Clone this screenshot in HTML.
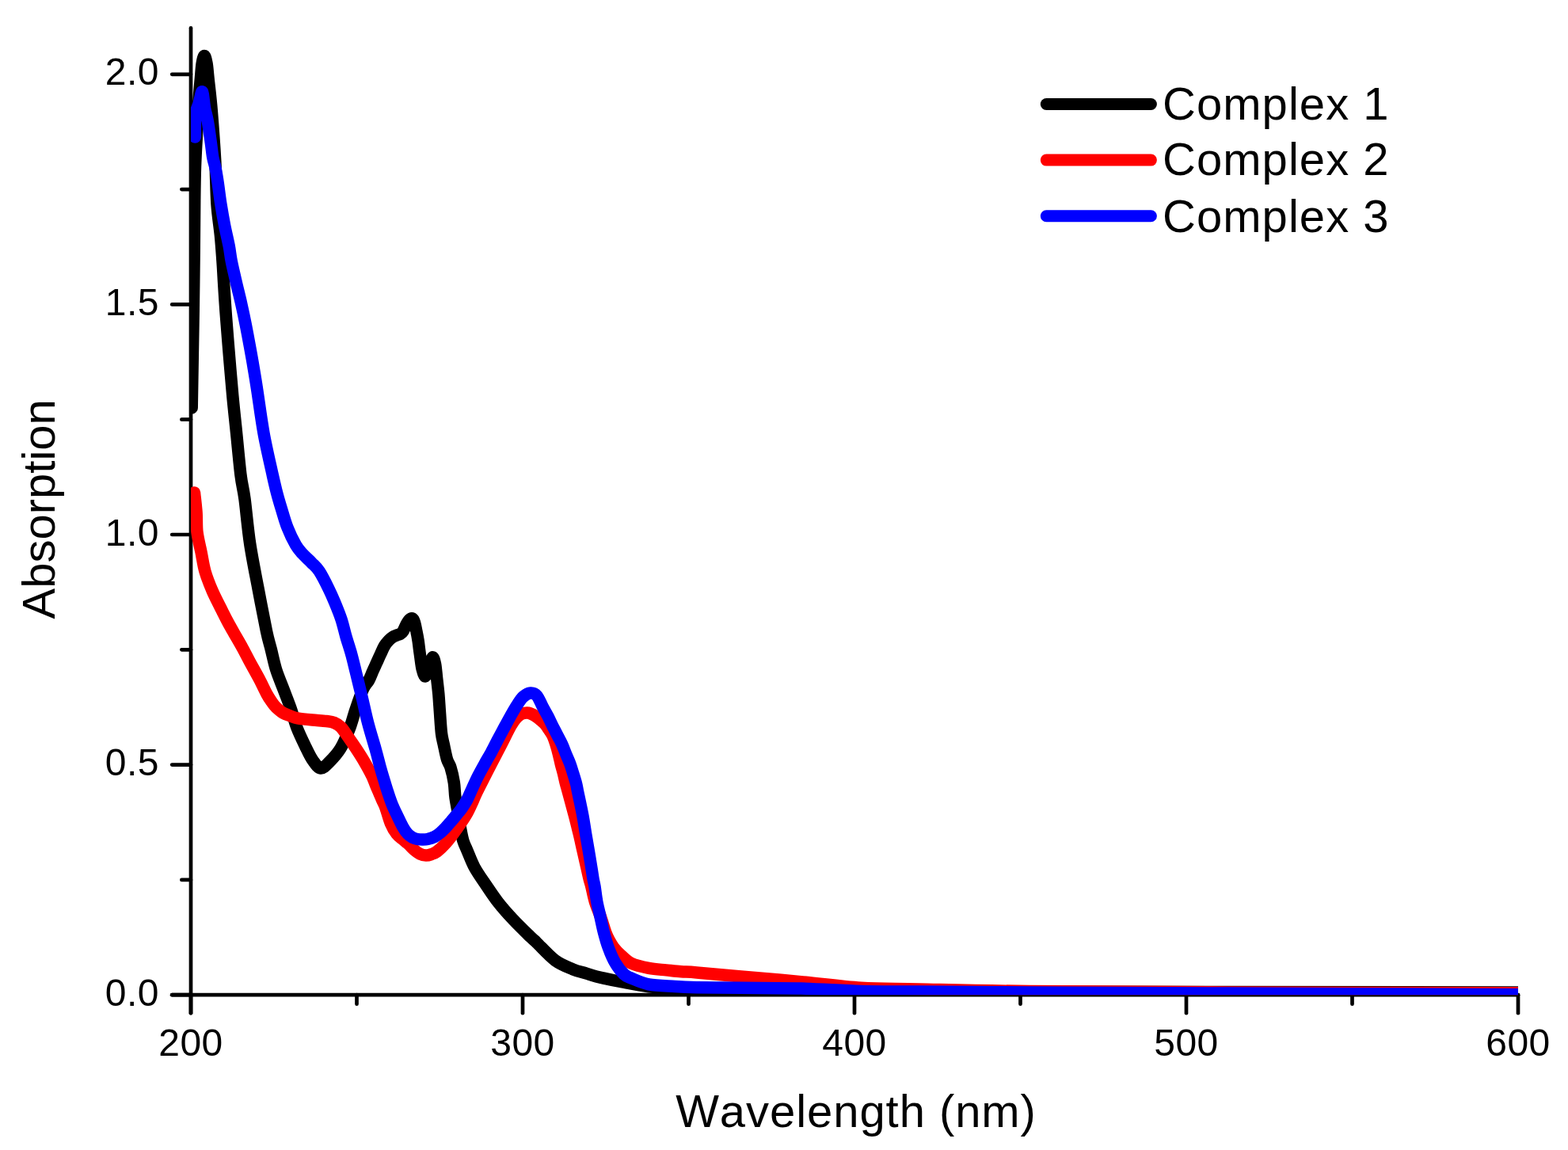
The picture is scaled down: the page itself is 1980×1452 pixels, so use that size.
<!DOCTYPE html>
<html><head><meta charset="utf-8"><title>Absorption spectra</title>
<style>html,body{margin:0;padding:0;background:#fff;}svg{display:block;}text{font-kerning:none;}</style>
</head><body>
<svg width="1980" height="1452" viewBox="0 0 1980 1452">
<rect width="1980" height="1452" fill="#fff"/>
<defs><clipPath id="pc"><rect x="241" y="0" width="1676" height="1256.2"/></clipPath></defs>
<g stroke="#000" stroke-width="4.7" stroke-linecap="round" fill="none">
<line x1="241.0" y1="35.3" x2="241.0" y2="1279.2"/>
<line x1="217.2" y1="1256.2" x2="1917.0" y2="1256.2"/>
<line x1="217.2" y1="1256.2" x2="241.0" y2="1256.2"/>
<line x1="229.4" y1="1110.9" x2="241.0" y2="1110.9"/>
<line x1="217.2" y1="965.6" x2="241.0" y2="965.6"/>
<line x1="229.4" y1="820.3" x2="241.0" y2="820.3"/>
<line x1="217.2" y1="675.0" x2="241.0" y2="675.0"/>
<line x1="229.4" y1="529.7" x2="241.0" y2="529.7"/>
<line x1="217.2" y1="384.4" x2="241.0" y2="384.4"/>
<line x1="229.4" y1="239.1" x2="241.0" y2="239.1"/>
<line x1="217.2" y1="93.8" x2="241.0" y2="93.8"/>
<line x1="241.0" y1="1256.2" x2="241.0" y2="1279.2"/>
<line x1="450.5" y1="1256.2" x2="450.5" y2="1267.7"/>
<line x1="660.0" y1="1256.2" x2="660.0" y2="1279.2"/>
<line x1="869.5" y1="1256.2" x2="869.5" y2="1267.7"/>
<line x1="1079.0" y1="1256.2" x2="1079.0" y2="1279.2"/>
<line x1="1288.5" y1="1256.2" x2="1288.5" y2="1267.7"/>
<line x1="1498.0" y1="1256.2" x2="1498.0" y2="1279.2"/>
<line x1="1707.5" y1="1256.2" x2="1707.5" y2="1267.7"/>
<line x1="1917.0" y1="1256.2" x2="1917.0" y2="1279.2"/>
</g>
<g clip-path="url(#pc)" fill="none" stroke-width="15.5" stroke-linecap="round" stroke-linejoin="round">
<path stroke="#000" d="M242.2 515.0 C242.4 505.2 242.8 476.8 243.2 456.0 C243.5 435.2 244.0 413.3 244.3 390.0 C244.6 366.7 245.0 338.7 245.2 316.0 C245.4 293.3 245.5 271.7 245.7 254.0 C245.9 236.3 246.0 224.0 246.5 210.0 C247.0 196.0 247.8 182.8 248.5 170.0 C249.2 157.2 249.7 144.7 250.5 133.0 C251.3 121.3 252.5 108.8 253.3 100.0 C254.1 91.2 254.4 84.9 255.2 80.0 C256.0 75.1 257.0 70.5 258.0 70.5 C259.0 70.5 260.1 75.1 261.0 80.0 C261.9 84.9 262.1 90.0 263.2 100.0 C264.2 110.0 265.9 122.7 267.3 140.0 C268.7 157.3 270.7 184.3 271.8 204.0 C272.9 223.7 272.9 242.5 274.0 258.0 C275.1 273.5 277.2 285.0 278.4 297.0 C279.6 309.0 280.3 320.3 281.0 330.0 C281.7 339.7 281.8 343.3 282.5 355.0 C283.2 366.7 284.3 384.2 285.5 400.0 C286.7 415.8 288.1 433.3 289.5 450.0 C290.9 466.7 292.3 483.8 293.8 500.0 C295.3 516.2 296.9 530.3 298.6 547.0 C300.3 563.7 302.3 586.2 304.0 600.0 C305.7 613.8 307.1 615.7 309.0 630.0 C310.9 644.3 312.8 667.3 315.6 686.0 C318.4 704.7 322.3 723.5 325.8 742.0 C329.3 760.5 333.8 784.0 336.5 797.0 C339.2 810.0 340.3 812.0 342.3 820.0 C344.3 828.0 345.9 836.7 348.5 845.0 C351.1 853.3 354.8 861.8 357.9 870.0 C361.0 878.2 364.1 885.8 367.0 894.0 C369.9 902.2 371.8 910.7 375.0 919.0 C378.2 927.3 383.1 937.2 386.4 944.0 C389.7 950.8 391.9 955.7 395.0 960.0 C398.1 964.3 401.5 969.7 405.0 970.0 C408.5 970.3 411.8 966.2 416.0 962.0 C420.2 957.8 425.8 951.8 430.0 945.0 C434.2 938.2 437.8 929.2 441.0 921.0 C444.2 912.8 446.1 904.5 449.0 896.0 C451.9 887.5 455.7 876.2 458.5 870.0 C461.3 863.8 463.7 862.7 465.7 859.0 C467.7 855.3 468.9 851.7 470.5 848.0 C472.1 844.3 473.8 840.7 475.5 837.0 C477.2 833.3 478.8 829.6 480.5 826.0 C482.2 822.4 483.8 818.4 485.5 815.5 C487.2 812.6 489.2 810.4 491.0 808.5 C492.8 806.6 494.8 805.1 496.5 804.0 C498.2 802.9 499.5 802.6 501.0 802.0 C502.5 801.4 504.2 801.1 505.5 800.3 C506.8 799.5 507.8 799.0 509.0 797.0 C510.2 795.0 511.7 790.9 513.0 788.5 C514.3 786.1 515.7 783.8 517.0 782.5 C518.3 781.2 519.9 780.4 521.0 781.0 C522.1 781.6 522.7 783.3 523.5 786.0 C524.3 788.7 525.1 793.2 525.9 797.0 C526.7 800.8 527.5 805.2 528.1 809.0 C528.7 812.8 529.0 816.3 529.5 820.0 C530.0 823.7 530.4 826.8 531.0 831.0 C531.6 835.2 532.2 841.2 533.2 845.0 C534.2 848.8 535.6 854.3 537.0 854.0 C538.4 853.7 540.0 847.0 541.5 843.0 C543.0 839.0 544.7 830.8 546.0 830.0 C547.3 829.2 548.6 833.7 549.5 838.0 C550.4 842.3 550.9 849.7 551.6 856.0 C552.3 862.3 553.1 868.7 553.8 876.0 C554.4 883.3 554.9 891.7 555.5 900.0 C556.1 908.3 556.7 919.3 557.5 926.0 C558.3 932.7 559.1 934.5 560.3 940.0 C561.5 945.5 563.1 954.2 564.6 959.0 C566.1 963.8 567.5 964.2 569.0 969.0 C570.5 973.8 572.3 981.7 573.3 988.0 C574.3 994.3 574.1 1000.5 575.0 1007.0 C575.9 1013.5 577.4 1020.5 578.5 1027.0 C579.6 1033.5 580.4 1040.2 581.5 1046.0 C582.6 1051.8 583.6 1057.5 585.0 1062.0 C586.4 1066.5 587.2 1067.6 589.6 1073.1 C592.0 1078.6 595.2 1087.8 599.2 1095.1 C603.2 1102.4 608.5 1109.8 613.5 1117.1 C618.5 1124.4 623.2 1131.8 629.0 1139.2 C634.8 1146.6 641.3 1153.9 648.2 1161.2 C655.1 1168.5 665.3 1178.4 670.3 1183.3 C675.3 1188.2 672.9 1185.6 678.0 1190.5 C683.1 1195.4 693.7 1207.2 701.2 1212.8 C708.8 1218.3 716.9 1221.1 723.3 1223.8 C729.7 1226.5 734.8 1227.3 739.8 1228.8 C744.8 1230.3 745.4 1231.0 753.1 1232.9 C760.8 1234.8 775.1 1237.9 786.1 1240.0 C797.1 1242.1 808.6 1244.4 819.2 1245.7 C829.9 1247.0 836.5 1247.3 850.0 1248.0 C863.5 1248.7 875.0 1249.5 900.0 1250.0 C925.0 1250.5 950.0 1250.7 1000.0 1251.0 C1050.0 1251.3 1047.2 1251.7 1200.0 1252.0 C1352.8 1252.3 1797.5 1252.8 1917.0 1253.0"/>
<path stroke="#f00" d="M245.5 622.0 C245.9 626.2 247.5 638.9 248.1 647.2 C248.7 655.5 248.0 663.7 249.0 672.0 C250.0 680.3 252.3 688.7 254.0 697.0 C255.7 705.3 256.6 713.4 259.0 721.6 C261.4 729.8 264.7 738.1 268.3 746.4 C271.9 754.7 277.3 764.8 280.5 771.2 C283.7 777.6 285.0 780.3 287.5 785.0 C290.0 789.7 292.3 793.7 295.5 799.3 C298.7 804.9 303.0 812.2 306.5 818.6 C310.0 825.0 313.2 831.5 316.7 837.9 C320.2 844.3 323.9 850.8 327.3 857.2 C330.7 863.6 334.4 871.7 337.0 876.5 C339.6 881.3 341.1 883.2 343.0 886.0 C344.9 888.8 346.1 890.7 348.5 893.0 C350.9 895.3 354.1 898.2 357.2 900.0 C360.2 901.8 363.7 902.9 366.8 904.0 C369.9 905.1 371.2 906.0 375.8 906.8 C380.4 907.6 388.4 908.4 394.4 909.0 C400.4 909.6 407.4 909.9 412.0 910.5 C416.6 911.1 418.9 911.2 422.0 912.5 C425.1 913.8 427.7 915.1 430.5 918.0 C433.3 920.9 435.7 924.9 439.0 929.6 C442.3 934.3 446.6 940.6 450.2 946.1 C453.8 951.6 457.3 957.1 460.5 962.6 C463.7 968.1 466.8 973.6 469.5 979.2 C472.2 984.8 474.3 990.9 476.5 996.0 C478.7 1001.1 480.8 1006.0 482.5 1010.0 C484.2 1014.0 485.2 1015.0 487.0 1020.0 C488.8 1025.0 491.2 1034.5 493.5 1040.0 C495.8 1045.5 498.4 1049.7 501.0 1053.0 C503.6 1056.3 506.5 1057.8 509.0 1060.0 C511.5 1062.2 513.7 1063.8 516.0 1066.0 C518.3 1068.2 520.7 1071.0 523.0 1073.0 C525.3 1075.0 527.5 1076.8 530.0 1078.0 C532.5 1079.2 535.5 1079.9 538.0 1080.0 C540.5 1080.1 542.7 1079.3 545.0 1078.5 C547.3 1077.7 549.1 1077.2 552.0 1075.0 C554.9 1072.8 558.5 1069.7 562.6 1065.0 C566.7 1060.3 571.8 1053.5 576.4 1047.0 C581.0 1040.5 585.9 1033.8 590.2 1026.0 C594.5 1018.2 598.5 1007.7 602.2 1000.0 C605.9 992.3 608.9 986.7 612.3 980.0 C615.7 973.3 619.1 966.7 622.6 960.0 C626.1 953.3 629.3 947.2 633.0 940.0 C636.7 932.8 641.8 922.1 645.0 916.5 C648.2 910.9 649.8 909.0 652.0 906.5 C654.2 904.0 655.8 902.6 658.0 901.5 C660.2 900.4 663.5 900.1 665.5 900.0 C667.5 899.9 668.2 900.3 670.0 901.0 C671.8 901.7 674.0 902.8 676.0 904.0 C678.0 905.2 680.0 906.8 682.0 908.5 C684.0 910.2 686.2 911.9 688.0 914.0 C689.8 916.1 691.3 918.5 693.0 921.0 C694.7 923.5 696.5 925.8 698.0 929.0 C699.5 932.2 700.8 936.1 702.0 940.0 C703.2 943.9 704.4 948.3 705.4 952.4 C706.4 956.5 707.3 960.7 708.3 964.8 C709.3 968.9 710.6 973.1 711.6 977.2 C712.6 981.3 713.5 985.8 714.5 989.6 C715.5 993.4 715.6 993.3 717.4 1000.0 C719.2 1006.7 723.2 1021.3 725.5 1030.0 C727.8 1038.7 729.2 1044.7 731.0 1052.0 C732.8 1059.3 734.3 1066.7 736.0 1074.0 C737.7 1081.3 739.6 1090.0 741.0 1096.0 C742.4 1102.0 743.2 1106.1 744.2 1110.0 C745.2 1113.9 745.6 1114.5 746.8 1119.3 C748.0 1124.1 749.4 1132.2 751.4 1138.6 C753.4 1145.0 756.3 1151.4 758.5 1157.8 C760.7 1164.2 763.0 1172.3 764.7 1177.1 C766.5 1181.9 767.3 1183.5 769.0 1186.7 C770.7 1189.9 772.5 1193.2 775.0 1196.4 C777.5 1199.6 780.3 1202.7 784.0 1206.0 C787.7 1209.3 791.2 1213.6 797.1 1216.3 C803.0 1219.0 811.9 1221.0 819.2 1222.4 C826.6 1223.8 834.4 1224.2 841.2 1224.9 C848.0 1225.6 853.6 1226.3 860.0 1226.8 C866.4 1227.3 867.2 1226.9 879.8 1227.9 C892.4 1228.9 913.8 1231.0 935.8 1233.0 C957.8 1235.0 986.2 1237.2 1011.5 1239.6 C1036.8 1242.0 1062.5 1245.7 1087.3 1247.3 C1112.0 1248.9 1124.5 1248.3 1160.0 1249.0 C1195.5 1249.7 1235.0 1250.8 1300.0 1251.5 C1365.0 1252.2 1447.2 1252.6 1550.0 1253.0 C1652.8 1253.4 1855.8 1253.7 1917.0 1253.8"/>
<path stroke="#00f" d="M246.3 173.0 C246.3 169.2 246.3 155.3 246.5 150.0 C246.7 144.7 246.8 144.2 247.5 141.0 C248.2 137.8 250.0 134.3 251.0 131.0 C252.0 127.7 252.9 123.5 253.5 121.0 C254.1 118.5 254.3 116.1 254.8 115.8 C255.3 115.5 255.7 115.5 256.3 119.0 C256.9 122.5 257.7 131.3 258.7 137.0 C259.7 142.7 261.1 146.0 262.3 153.1 C263.6 160.2 265.1 171.7 266.2 179.3 C267.3 186.9 267.8 193.5 268.8 198.9 C269.8 204.3 270.9 206.6 272.0 212.0 C273.1 217.4 274.2 224.0 275.3 231.6 C276.4 239.2 277.5 249.1 278.9 257.8 C280.3 266.5 281.8 275.2 283.5 283.9 C285.2 292.6 287.6 302.4 289.1 310.1 C290.6 317.8 290.8 322.5 292.3 330.0 C293.8 337.5 295.9 346.2 297.9 355.0 C299.9 363.8 302.4 373.4 304.5 382.6 C306.6 391.8 308.5 400.8 310.3 410.0 C312.1 419.2 313.8 428.5 315.5 437.7 C317.2 446.9 318.8 455.8 320.3 465.0 C321.9 474.2 322.7 479.1 324.8 492.8 C326.9 506.5 329.8 529.1 333.0 547.0 C336.2 564.9 341.6 587.5 344.3 600.0 C347.1 612.5 347.6 614.6 349.5 622.0 C351.4 629.4 353.6 636.7 355.9 644.1 C358.1 651.5 360.1 658.9 363.0 666.2 C365.9 673.6 370.3 682.7 373.5 688.2 C376.7 693.7 378.7 695.5 382.0 699.2 C385.3 702.9 389.8 706.6 393.3 710.3 C396.8 714.0 399.6 715.8 403.2 721.3 C406.8 726.8 411.8 736.8 415.0 743.3 C418.2 749.8 419.8 753.5 422.5 760.0 C425.2 766.5 428.6 774.7 431.0 782.0 C433.4 789.3 434.9 796.7 437.0 804.0 C439.1 811.3 441.7 818.7 443.7 826.0 C445.7 833.3 447.0 839.0 449.2 848.0 C451.4 857.0 454.4 869.2 457.0 880.0 C459.6 890.8 461.8 902.0 464.7 913.0 C467.6 924.0 471.6 936.8 474.2 946.0 C476.8 955.2 478.2 961.5 480.0 968.0 C481.8 974.5 483.3 979.5 485.0 985.0 C486.7 990.5 488.2 995.6 490.0 1001.0 C491.8 1006.4 493.8 1012.5 495.9 1017.5 C498.0 1022.5 500.2 1026.7 502.4 1031.3 C504.6 1035.9 507.2 1041.5 509.3 1045.1 C511.4 1048.7 513.0 1050.9 515.0 1053.0 C517.0 1055.1 519.0 1056.4 521.0 1057.5 C523.0 1058.6 525.0 1059.1 527.0 1059.5 C529.0 1059.9 530.8 1060.0 533.0 1060.0 C535.2 1060.0 537.4 1060.1 540.0 1059.5 C542.6 1058.9 546.3 1057.8 548.9 1056.5 C551.5 1055.2 553.5 1053.5 555.8 1051.6 C558.1 1049.7 560.3 1047.5 562.6 1045.1 C564.9 1042.7 567.2 1039.9 569.5 1037.2 C571.8 1034.5 574.1 1031.8 576.4 1029.0 C578.7 1026.2 581.0 1023.6 583.3 1020.3 C585.6 1017.0 588.4 1012.4 590.2 1009.0 C592.0 1005.6 592.1 1004.8 594.3 1000.0 C596.5 995.2 600.2 986.7 603.6 980.0 C607.0 973.3 611.7 965.1 614.5 960.0 C617.3 954.9 618.1 954.1 620.5 949.6 C622.9 945.1 626.1 938.6 629.0 933.1 C631.9 927.6 634.9 922.0 637.9 916.5 C640.9 911.0 644.3 904.7 647.0 900.0 C649.7 895.3 651.7 891.9 654.0 888.5 C656.3 885.1 658.3 881.8 661.0 879.5 C663.7 877.2 667.2 875.2 670.0 875.0 C672.8 874.8 675.5 875.6 678.0 878.5 C680.5 881.4 682.9 888.0 685.3 892.4 C687.6 896.8 690.0 900.7 692.1 904.8 C694.2 908.9 696.0 913.1 698.1 917.2 C700.2 921.3 702.5 925.8 704.5 929.6 C706.5 933.4 708.1 936.2 709.8 940.0 C711.5 943.8 713.1 948.3 714.8 952.4 C716.5 956.5 718.5 960.7 720.0 964.8 C721.5 968.9 722.6 973.1 723.9 977.2 C725.2 981.3 726.6 985.8 727.6 989.6 C728.6 993.4 728.3 993.3 729.7 1000.0 C731.1 1006.7 734.3 1021.3 735.9 1030.0 C737.5 1038.7 738.3 1044.7 739.5 1052.0 C740.7 1059.3 742.1 1066.7 743.3 1074.0 C744.5 1081.3 745.9 1090.0 746.9 1096.0 C747.9 1102.0 748.4 1106.1 749.1 1110.0 C749.8 1113.9 750.2 1114.5 751.0 1119.3 C751.8 1124.1 752.6 1132.2 753.8 1138.6 C755.0 1145.0 756.7 1151.4 758.1 1157.8 C759.5 1164.2 760.7 1170.7 762.4 1177.1 C764.1 1183.5 765.8 1190.0 768.2 1196.4 C770.6 1202.8 773.6 1210.1 776.9 1215.7 C780.2 1221.3 784.6 1226.8 788.0 1230.0 C791.4 1233.2 791.9 1232.9 797.1 1235.0 C802.3 1237.1 810.0 1241.0 819.2 1242.8 C828.4 1244.5 842.1 1244.8 852.2 1245.5 C862.3 1246.2 865.9 1246.4 879.8 1246.7 C893.7 1247.0 913.8 1247.1 935.8 1247.3 C957.8 1247.5 986.2 1247.3 1011.5 1248.0 C1036.8 1248.7 1062.5 1250.8 1087.3 1251.5 C1112.0 1252.2 1124.5 1251.8 1160.0 1252.0 C1195.5 1252.2 1235.0 1252.7 1300.0 1253.0 C1365.0 1253.3 1447.2 1253.5 1550.0 1254.0 C1652.8 1254.5 1855.8 1255.4 1917.0 1255.7"/>
</g>
<g font-family="Liberation Sans, Arial, sans-serif" font-size="48" fill="#000" letter-spacing="0.5">
<text x="201" y="1269.7" text-anchor="end">0.0</text>
<text x="201" y="979.1" text-anchor="end">0.5</text>
<text x="201" y="688.5" text-anchor="end">1.0</text>
<text x="201" y="397.9" text-anchor="end">1.5</text>
<text x="201" y="107.3" text-anchor="end">2.0</text>
<text x="241.0" y="1333.3" text-anchor="middle">200</text>
<text x="660.0" y="1333.3" text-anchor="middle">300</text>
<text x="1079.0" y="1333.3" text-anchor="middle">400</text>
<text x="1498.0" y="1333.3" text-anchor="middle">500</text>
<text x="1917.0" y="1333.3" text-anchor="middle">600</text>
</g>
<g font-family="Liberation Sans, Arial, sans-serif" font-size="58" fill="#000">
<text x="1081" y="1423.1" text-anchor="middle" letter-spacing="0.94">Wavelength (nm)</text>
<text transform="translate(69,642.8) rotate(-90)" text-anchor="middle">Absorption</text>
<text x="1468" y="151" letter-spacing="1.05">Complex 1</text>
<text x="1468" y="221.4" letter-spacing="1.05">Complex 2</text>
<text x="1468" y="293" letter-spacing="1.05">Complex 3</text>
</g>
<g stroke-width="15" stroke-linecap="round">
<line x1="1321.3" y1="131.5" x2="1453.4" y2="131.5" stroke="#000"/>
<line x1="1321.3" y1="202.1" x2="1453.4" y2="202.1" stroke="#f00"/>
<line x1="1321.3" y1="272.7" x2="1453.4" y2="272.7" stroke="#00f"/>
</g>
</svg>
</body></html>
